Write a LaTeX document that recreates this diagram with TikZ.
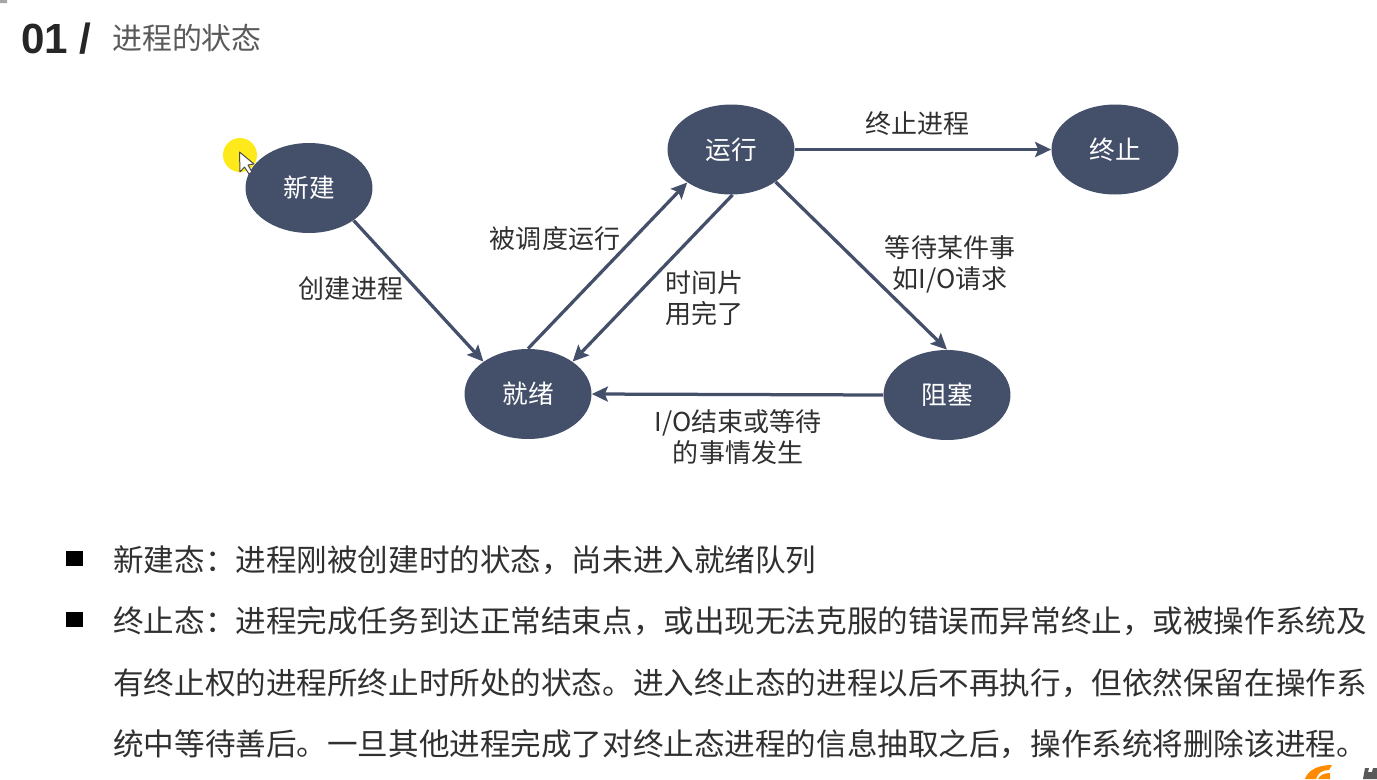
\documentclass[tikz,border=0pt]{standalone}
\usepackage{fontspec}
\setmainfont{Noto Sans CJK SC}
\newfontfamily\latinbold{Liberation Sans}[BoldFont={Liberation Sans Bold}]
\usetikzlibrary{arrows.meta,shapes.geometric}
\definecolor{slate}{HTML}{44506A}
\definecolor{bodytext}{HTML}{303030}
\definecolor{titlegray}{HTML}{5A5A5A}
\tikzset{
  state/.style={ellipse, fill=slate, text=white, inner sep=0pt,
    minimum width=2.54cm, minimum height=1.8cm, font=\fontsize{14.6}{17.6}\selectfont},
  trans/.style={draw=slate, line width=0.065cm, -{Stealth[length=0.32cm, width=0.3cm, inset=0.06cm]}},
  lbl/.style={align=center, text=bodytext, inner sep=0pt, font=\fontsize{14.8}{17.6}\selectfont},
  bodyline/.style={anchor=west, text=bodytext, inner sep=0pt, font=\fontsize{17.4}{20}\selectfont}
}
\begin{document}
\begin{tikzpicture}[x=0.02cm, y=-0.02cm]
  \useasboundingbox (0,0) rectangle (1377,779);
  \fill[white] (0,0) rectangle (1377,779);
  \fill[gray!70] (0,0) rectangle (7,3) arc (0:-90:3) -- (0,0);

  % heading
  \node[anchor=west, inner sep=0pt, text=black!85, font=\fontsize{24}{28}\selectfont\latinbold\bfseries]
    (num) at (21,38.5) {01 /};
  \node[anchor=west, inner sep=0pt, text=titlegray, font=\fontsize{17}{20}\selectfont]
    (title) at (112,38.5) {进程的状态};

  % states
  \node[state] (xinjian) at (309,188) {新建};
  \node[state] (yunxing) at (731,149.5) {运行};
  \node[state] (zhongzhi) at (1115,149.5) {终止};
  \node[state] (jiuxu) at (528,394) {就绪};
  \node[state] (zuse) at (947,395) {阻塞};

  \draw[trans] (xinjian.-36.5) -- (jiuxu.144);
  \draw[trans] (jiuxu.90) -- (yunxing.217);
  \draw[trans] (yunxing.-88) -- (jiuxu.36);
  \draw[trans] (yunxing.-36) -- (zuse.90);
  \draw[trans] (yunxing.0) -- (zhongzhi.180);
  \draw[trans] (zuse.180) -- (jiuxu.0);

  \node[lbl] (l1) at (351,289) {创建进程};
  \node[lbl] (l2) at (555,239) {被调度运行};
  \node[lbl] (l3) at (704,298) {时间片\\用完了};
  \node[lbl] (l4) at (917,124) {终止进程};
  \node[lbl] (l5) at (950,264) {等待某件事\\如I/O请求};
  \node[lbl] (l6) at (738,437) {I/O结束或等待\\的事情发生};

  % cursor
  \fill[yellow!90!orange!90!white] (240,155) circle (17);
  \draw[black!70, fill=white, line width=0.02cm, line join=round]
    (239.5,152) -- (240,172) -- (244.5,167) -- (249,174) -- (252,172) -- (248,165) -- (254,164) -- cycle;

  % bullets
  \foreach \by in {558.5, 619.5} {
    \fill[black] (66,\by-8) rectangle (83,\by+7);
  }
  \node[bodyline] (t1) at (113,560) {新建态：进程刚被创建时的状态，尚未进入就绪队列};
  \node[bodyline] (t2) at (113,621) {终止态：进程完成任务到达正常结束点，或出现无法克服的错误而异常终止，或被操作系统及};
  \node[bodyline] (t3) at (113,683) {有终止权的进程所终止时所处的状态。进入终止态的进程以后不再执行，但依然保留在操作系};
  \node[bodyline] (t4) at (113,744) {统中等待善后。一旦其他进程完成了对终止态进程的信息抽取之后，操作系统将删除该进程。};

  % corner logo
  \begin{scope}
    \clip (0,0) rectangle (1377,779);
    \fill[orange!90!yellow] (1305,779) .. controls (1308,770) and (1318,765) .. (1332,765)
      -- (1329,770) .. controls (1322,770) and (1318,773) .. (1316,779) -- cycle;
    \fill[orange!90!yellow] (1318,779) .. controls (1320,775) and (1324,773) .. (1330,773) -- (1330,779) -- cycle;
    \fill[black!65] (1363,779) -- (1365,768) -- (1369,768) -- (1368,772) -- (1372,772) -- (1373,768) -- (1377,768) -- (1377,779) -- cycle;
  \end{scope}
\end{tikzpicture}
\end{document}
